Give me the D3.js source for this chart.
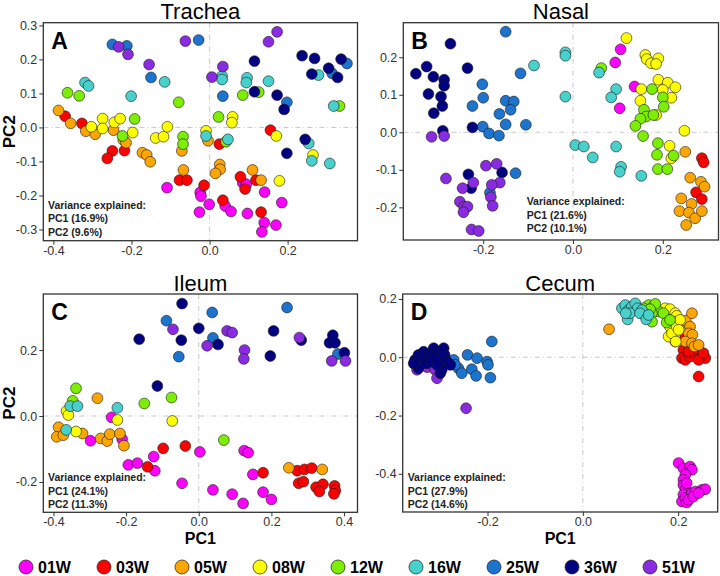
<!DOCTYPE html>
<html>
<head>
<meta charset="utf-8">
<script src="https://cdn.jsdelivr.net/npm/d3@7"></script>
<style>
  body { margin: 0; background: #fff; }
  svg { display: block; font-family: "Liberation Sans", Arial, sans-serif; }
</style>
</head>
<body>
<svg id="chart" width="720" height="576"></svg>
<script>
// sampling weeks and their colours
var weeks = ["01W", "03W", "05W", "08W", "12W", "16W", "25W", "36W", "51W"];
var weekColors = ["#FF00FF", "#FF0000", "#FFA500", "#FFFF00", "#7CEE00", "#48D1CC", "#1C74CE", "#000080", "#8A2BE2"];

// PCA scores: [week, PC1, PC2]
var trachea = [
  ["01W",-0.109,-0.177],["01W",-0.024,-0.191],["01W",-0.022,-0.202],["01W",-0.026,-0.249],["01W",-0.001,-0.226],
  ["01W",0.040,-0.231],["01W",0.055,-0.247],["01W",0.085,-0.163],["01W",0.094,-0.167],["01W",0.097,-0.253],
  ["01W",0.141,-0.190],["01W",0.185,-0.221],["01W",0.140,-0.280],["01W",0.134,-0.307],["01W",0.170,-0.287],
  ["03W",-0.370,0.033],["03W",-0.327,0.012],["03W",-0.249,-0.069],["03W",-0.262,-0.091],["03W",-0.218,-0.068],
  ["03W",-0.077,-0.155],["03W",-0.058,-0.155],["03W",-0.014,-0.170],["03W",0.025,-0.049],["03W",0.034,-0.214],
  ["03W",0.079,-0.145],["03W",0.091,-0.181],["03W",0.119,-0.155],["03W",0.132,-0.249],["03W",0.156,-0.008],
  ["05W",-0.387,0.050],["05W",-0.356,0.012],["05W",-0.317,-0.011],["05W",-0.293,-0.020],["05W",-0.246,-0.008],
  ["05W",-0.221,-0.037],["05W",-0.214,-0.045],["05W",-0.172,-0.074],["05W",-0.161,-0.081],["05W",-0.152,-0.101],
  ["05W",-0.071,-0.069],["05W",-0.067,-0.125],["05W",-0.004,-0.039],["05W",0.026,-0.109],["05W",0.027,-0.123],
  ["05W",0.015,-0.135],["05W",0.110,-0.125],["05W",0.132,-0.155],
  ["08W",-0.303,0.002],["08W",-0.274,0.026],["08W",-0.274,-0.003],["08W",-0.244,0.015],["08W",-0.229,0.026],
  ["08W",-0.197,-0.015],["08W",-0.138,-0.031],["08W",-0.118,-0.027],["08W",-0.108,0.002],["08W",-0.009,-0.010],
  ["08W",0.059,0.031],["08W",0.057,0.014],["08W",0.171,-0.025],["08W",0.265,-0.081],["08W",0.179,-0.157],
  ["12W",0.126,0.104],["12W",0.333,0.063],["12W",0.085,0.095],["12W",-0.364,0.102],["12W",-0.334,0.093],
  ["12W",-0.079,0.074],["12W",-0.192,0.025],["12W",-0.223,-0.025],["12W",-0.068,-0.027],["12W",-0.068,-0.049],
  ["12W",0.023,0.031],["12W",0.042,-0.042],
  ["16W",0.279,0.154],["16W",0.318,0.063],["16W",0.096,0.146],["16W",0.094,0.132],["16W",0.151,0.136],
  ["16W",0.032,0.151],["16W",0.032,0.141],["16W",-0.319,0.132],["16W",-0.310,0.122],["16W",-0.201,0.092],
  ["16W",-0.115,0.134],["16W",-0.009,-0.025],["16W",0.047,-0.035],["16W",0.254,-0.047],["16W",0.262,-0.098],
  ["16W",0.308,-0.106],
  ["25W",-0.249,0.244],["25W",-0.212,0.240],["25W",-0.150,0.147],["25W",-0.028,0.257],["25W",0.034,0.092],
  ["25W",0.198,0.074],["25W",0.352,0.188],["25W",0.314,0.159],
  ["36W",0.237,0.211],["36W",0.269,0.203],["36W",0.262,0.157],["36W",0.337,0.201],["36W",0.305,0.174],
  ["36W",0.328,0.147],["36W",0.115,0.195],["36W",0.115,0.105],["36W",0.173,0.095],["36W",0.191,0.053],
  ["36W",0.245,-0.035],["36W",0.198,-0.076],
  ["51W",-0.233,0.237],["51W",-0.209,0.215],["51W",-0.155,0.185],["51W",-0.062,0.254],["51W",0.006,0.148],
  ["51W",0.034,0.179],["51W",0.151,0.252],["51W",0.173,0.281]
];

var nasal = [
  ["01W",0.094,0.186],["01W",0.106,0.221],["01W",0.137,0.122],["01W",0.104,0.064],
  ["03W",0.287,-0.069],["03W",0.291,-0.080],["03W",0.274,-0.160],["03W",0.287,-0.178],
  ["05W",0.250,-0.052],["05W",0.261,-0.121],["05W",0.285,-0.132],["05W",0.293,-0.145],["05W",0.241,-0.176],
  ["05W",0.264,-0.191],["05W",0.237,-0.210],["05W",0.258,-0.214],["05W",0.272,-0.229],["05W",0.287,-0.210],
  ["05W",0.252,-0.247],
  ["08W",0.119,0.251],["08W",0.161,0.206],["08W",0.164,0.195],["08W",0.174,0.184],["08W",0.190,0.197],
  ["08W",0.185,0.182],["08W",0.152,0.115],["08W",0.190,0.140],["08W",0.211,0.132],["08W",0.228,0.120],
  ["08W",0.219,0.092],["08W",0.200,0.113],["08W",0.150,0.084],["08W",0.185,0.046],["08W",0.215,-0.036],
  ["08W",0.219,-0.069],["08W",0.248,0.004],
  ["12W",0.063,0.171],["12W",0.176,0.115],["12W",0.200,0.093],["12W",0.158,0.060],["12W",0.163,0.042],
  ["12W",0.179,0.046],["12W",0.202,0.068],["12W",0.150,0.036],["12W",0.139,0.017],["12W",0.156,-0.010],
  ["12W",0.189,-0.029],["12W",0.187,-0.060],["12W",0.224,-0.062],["12W",0.189,-0.098],["12W",0.210,-0.098],
  ["16W",-0.087,0.178],["16W",-0.017,0.213],["16W",-0.017,0.204],["16W",-0.017,0.095],["16W",0.005,-0.034],
  ["16W",0.024,-0.038],["16W",0.044,-0.067],["16W",0.058,0.159],["16W",0.096,0.115],["16W",0.085,0.093],
  ["16W",0.096,-0.038],["16W",0.107,-0.092],["16W",0.104,-0.105],["16W",0.152,-0.116],
  ["25W",-0.150,0.268],["25W",-0.117,0.157],["25W",-0.202,0.128],["25W",-0.200,0.092],["25W",-0.224,0.070],
  ["25W",-0.164,0.049],["25W",-0.150,0.084],["25W",-0.132,0.082],["25W",-0.139,0.060],["25W",-0.150,0.021],
  ["25W",-0.105,0.020],["25W",-0.201,0.015],["25W",-0.187,-0.003],["25W",-0.165,-0.009],["25W",-0.128,-0.109],
  ["25W",-0.185,-0.161],
  ["36W",-0.350,0.156],["36W",-0.326,0.175],["36W",-0.311,0.148],["36W",-0.287,0.140],["36W",-0.287,0.124],
  ["36W",-0.322,0.102],["36W",-0.294,0.095],["36W",-0.291,0.070],["36W",-0.310,0.051],["36W",-0.290,0.004],
  ["36W",-0.273,0.236],["36W",-0.235,0.171],["36W",-0.224,0.013],["36W",-0.233,-0.112],["36W",-0.227,-0.149],
  ["36W",-0.158,-0.107],
  ["51W",-0.315,-0.012],["51W",-0.287,-0.010],["51W",-0.283,-0.123],["51W",-0.222,-0.134],["51W",-0.194,-0.089],
  ["51W",-0.170,-0.084],["51W",-0.163,-0.134],["51W",-0.181,-0.140],["51W",-0.183,-0.173],["51W",-0.179,-0.196],
  ["51W",-0.246,-0.149],["51W",-0.252,-0.185],["51W",-0.243,-0.198],["51W",-0.235,-0.198],["51W",-0.244,-0.213],
  ["51W",-0.226,-0.259],["51W",-0.210,-0.263]
];

var ileum = [
  ["01W",-0.240,-0.004],["01W",-0.211,-0.070],["01W",-0.298,-0.075],["01W",-0.194,-0.148],["01W",-0.169,-0.143],
  ["01W",-0.124,-0.123],["01W",-0.121,-0.166],["01W",0.003,-0.109],["01W",0.125,-0.105],["01W",0.136,-0.111],
  ["01W",-0.046,-0.204],["01W",0.039,-0.224],["01W",0.092,-0.237],["01W",0.122,-0.265],["01W",0.149,-0.177],
  ["01W",0.177,-0.231],["01W",0.200,-0.253],
  ["03W",-0.098,-0.098],["03W",-0.037,-0.091],["03W",-0.141,-0.154],["03W",0.177,-0.172],["03W",0.271,-0.166],
  ["03W",0.291,-0.162],["03W",0.311,-0.158],["03W",0.275,-0.204],["03W",0.288,-0.199],["03W",0.323,-0.216],
  ["03W",0.342,-0.207],["03W",0.332,-0.229],["03W",0.374,-0.212],["03W",0.376,-0.226],["03W",0.372,-0.236],
  ["05W",-0.279,0.054],["05W",-0.386,-0.034],["05W",-0.391,-0.063],["05W",-0.373,-0.058],["05W",-0.320,-0.053],
  ["05W",-0.270,-0.068],["05W",-0.252,-0.076],["05W",-0.245,-0.055],["05W",-0.217,-0.053],["05W",-0.206,-0.090],
  ["05W",0.248,-0.157],["05W",0.340,-0.162],
  ["08W",-0.364,0.015],["08W",-0.359,0.003],["08W",-0.224,-0.012],["08W",-0.073,-0.015],["08W",-0.338,-0.047],
  ["12W",-0.338,0.084],["12W",-0.347,0.046],["12W",-0.150,0.038],["12W",-0.075,0.056],["12W",0.069,-0.073],
  ["16W",-0.354,0.030],["16W",-0.334,0.030],["16W",-0.224,0.025],["16W",-0.365,-0.042],
  ["25W",-0.089,0.289],["25W",0.037,0.314],["25W",0.039,0.237],["25W",-0.055,0.180],["25W",0.243,0.329],
  ["25W",0.383,0.188],
  ["36W",-0.046,0.341],["36W",-0.164,0.233],["36W",-0.048,0.230],["36W",0.000,0.266],["36W",0.053,0.217],
  ["36W",0.206,0.258],["36W",0.197,0.182],["36W",0.282,0.230],["36W",0.369,0.245],["36W",0.360,0.222],
  ["36W",0.375,0.222],["36W",0.401,0.192],["36W",-0.114,0.091],
  ["51W",-0.071,0.263],["51W",0.023,0.213],["51W",0.078,0.258],["51W",0.092,0.253],["51W",0.126,0.200],
  ["51W",0.124,0.173],["51W",0.277,0.238],["51W",0.366,0.167],["51W",0.404,0.167]
];

var cecum = [
  ["01W",0.201,-0.363],["01W",0.211,-0.381],["01W",0.225,-0.375],["01W",0.229,-0.386],["01W",0.215,-0.403],
  ["01W",0.211,-0.421],["01W",0.211,-0.438],["01W",0.215,-0.455],["01W",0.211,-0.472],["01W",0.208,-0.495],
  ["01W",0.215,-0.483],["01W",0.218,-0.498],["01W",0.229,-0.466],["01W",0.236,-0.461],["01W",0.250,-0.455],
  ["01W",0.257,-0.453],["01W",0.222,-0.489],["01W",0.232,-0.478],["01W",0.243,-0.466],["01W",0.218,-0.432],
  ["03W",0.215,0.071],["03W",0.218,0.037],["03W",0.211,0.025],["03W",0.208,-0.003],["03W",0.215,-0.009],
  ["03W",0.225,0.002],["03W",0.236,0.008],["03W",0.246,0.019],["03W",0.250,0.002],["03W",0.257,-0.003],
  ["03W",0.232,0.025],["03W",0.222,0.019],["03W",0.243,-0.009],["03W",0.243,-0.066],["03W",0.253,0.014],
  ["05W",0.055,0.096],["05W",0.208,0.117],["05W",0.216,0.126],["05W",0.225,0.105],["05W",0.222,0.082],
  ["05W",0.230,0.077],["05W",0.215,0.054],["05W",0.229,0.048],["05W",0.234,0.037],["05W",0.243,0.042],
  ["05W",0.194,0.054],["05W",0.229,0.151],
  ["08W",0.173,0.168],["08W",0.183,0.165],["08W",0.194,0.151],["08W",0.197,0.142],["08W",0.190,0.122],
  ["08W",0.183,0.105],["08W",0.180,0.071],["08W",0.187,0.082],["08W",0.195,0.054],["08W",0.197,0.105],
  ["08W",0.204,0.128],["08W",0.201,0.094],
  ["12W",0.138,0.179],["12W",0.148,0.174],["12W",0.159,0.157],["12W",0.145,0.151],["12W",0.127,0.168],
  ["12W",0.152,0.183],["12W",0.169,0.151],["12W",0.176,0.119],["12W",0.183,0.128],["12W",0.141,0.165],
  ["12W",0.145,0.122],
  ["16W",0.082,0.168],["16W",0.089,0.179],["16W",0.096,0.162],["16W",0.103,0.174],["16W",0.110,0.185],
  ["16W",0.115,0.168],["16W",0.094,0.130],["16W",0.124,0.162],["16W",0.099,0.151],["16W",0.120,0.151],
  ["16W",0.133,0.130],["16W",0.138,0.145],["16W",0.090,0.151],
  ["25W",-0.191,0.054],["25W",-0.242,0.008],["25W",-0.222,-0.003],["25W",-0.201,-0.015],["25W",-0.199,-0.026],
  ["25W",-0.261,-0.038],["25W",-0.254,-0.055],["25W",-0.233,-0.041],["25W",-0.224,-0.064],["25W",-0.194,-0.070],
  ["25W",-0.271,-0.009],["25W",-0.268,-0.026],
  ["51W",-0.348,-0.043],["51W",-0.341,-0.009],["51W",-0.327,-0.034],["51W",-0.310,-0.043],["51W",-0.306,-0.072],
  ["51W",-0.292,0.008],["51W",-0.289,-0.021],["51W",-0.352,-0.015],["51W",-0.315,-0.009],["51W",-0.245,-0.175],
  ["36W",-0.352,-0.009],["36W",-0.345,0.008],["36W",-0.341,-0.026],["36W",-0.334,0.019],["36W",-0.331,-0.003],
  ["36W",-0.327,-0.021],["36W",-0.320,0.014],["36W",-0.317,-0.015],["36W",-0.313,0.031],["36W",-0.310,0.008],
  ["36W",-0.303,0.019],["36W",-0.299,-0.003],["36W",-0.292,0.031],["36W",-0.290,0.008],["36W",-0.285,-0.015],
  ["36W",-0.278,-0.026],["36W",-0.299,-0.055],["36W",-0.345,-0.038],["36W",-0.355,-0.021],["36W",-0.296,-0.043],
  ["36W",-0.306,-0.026]
];

// axis ticks per panel
var traXTicks = [-0.4, -0.2, 0, 0.2], traYTicks = [-0.3, -0.2, -0.1, 0, 0.1, 0.2, 0.3];
var nasXTicks = [-0.2, 0, 0.2],       nasYTicks = [-0.2, -0.1, 0, 0.1, 0.2];
var ileXTicks = [-0.4, -0.2, 0, 0.2, 0.4], ileYTicks = [-0.2, 0, 0.2];
var cecXTicks = [-0.2, 0, 0.2],       cecYTicks = [-0.4, -0.2, 0, 0.2];

var panels = [
  { title: "Trachea", letter: "A", pts: trachea, xt: traXTicks, yt: traYTicks,
    xd: [-0.426, 0.379], yd: [-0.333, 0.308], pc: ["16.9%", "9.6%"],
    box: [43.3, 22.7, 357.5, 240.7], note: [48, 208.5], ylab: true, xlab: false },
  { title: "Nasal", letter: "B", pts: nasal, xt: nasXTicks, yt: nasYTicks,
    xd: [-0.378, 0.324], yd: [-0.287, 0.292], pc: ["21.6%", "10.1%"],
    box: [403.3, 22.7, 718.5, 240], note: [526.7, 205], ylab: false, xlab: false },
  { title: "Ileum", letter: "C", pts: ileum, xt: ileXTicks, yt: ileYTicks,
    xd: [-0.428, 0.437], yd: [-0.292, 0.370], pc: ["24.1%", "11.3%"],
    box: [43.3, 294, 357.5, 512.3], note: [48, 481], ylab: true, xlab: true },
  { title: "Cecum", letter: "D", pts: cecum, xt: cecXTicks, yt: cecYTicks,
    xd: [-0.378, 0.283], yd: [-0.531, 0.217], pc: ["27.9%", "14.6%"],
    box: [402.7, 294, 717.7, 512], note: [407.7, 481], ylab: false, xlab: true }
];

var svg = d3.select("#chart");
var color = d3.scaleOrdinal().domain(weeks).range(weekColors);
var fmt = function(d) { return d.toFixed(1); };

panels.forEach(drawPanel);

function drawPanel(p) {
  var b = p.box;
  var x = d3.scaleLinear().domain(p.xd).range([b[0], b[2]]);
  var y = d3.scaleLinear().domain(p.yd).range([b[3], b[1]]);
  var g = svg.append("g");

  g.append("rect").attr("x", b[0]).attr("y", b[1])
    .attr("width", b[2] - b[0]).attr("height", b[3] - b[1]).attr("fill", "#fff");

  // zero reference lines
  g.append("line").attr("x1", x(0)).attr("x2", x(0)).attr("y1", b[1]).attr("y2", b[3])
    .attr("stroke", "#c8c8c8").attr("stroke-width", 1).attr("stroke-dasharray", "5,3,1,3");
  g.append("line").attr("x1", b[0]).attr("x2", b[2]).attr("y1", y(0)).attr("y2", y(0))
    .attr("stroke", "#c8c8c8").attr("stroke-width", 1).attr("stroke-dasharray", "5,3,1,3");

  g.append("g").selectAll("circle").data(p.pts).join("circle")
    .attr("cx", function(d) { return x(d[1]); })
    .attr("cy", function(d) { return y(d[2]); })
    .attr("r", 5.4)
    .attr("fill", function(d) { return color(d[0]); })
    .attr("stroke", "#1a1a1a").attr("stroke-width", 0.6);

  g.append("rect").attr("x", b[0]).attr("y", b[1])
    .attr("width", b[2] - b[0]).attr("height", b[3] - b[1])
    .attr("fill", "none").attr("stroke", "#333").attr("stroke-width", 1.3);

  var ax = g.append("g").attr("transform", "translate(0," + b[3] + ")")
    .call(d3.axisBottom(x).tickValues(p.xt).tickFormat(fmt).tickSize(4).tickPadding(1));
  var ay = g.append("g").attr("transform", "translate(" + b[0] + ",0)")
    .call(d3.axisLeft(y).tickValues(p.yt).tickFormat(fmt).tickSize(4).tickPadding(2));
  [ax, ay].forEach(function(a) {
    a.select(".domain").remove();
    a.selectAll("line").attr("stroke", "#333");
    a.selectAll("text").attr("fill", "#333").style("font-size", "12.5px")
      .style("font-family", '"Liberation Sans", Arial, sans-serif');
  });

  g.append("text").attr("x", (b[0] + b[2]) / 2).attr("y", b[1] - 3.5)
    .attr("text-anchor", "middle").style("font-size", "22px").text(p.title);

  g.append("text").attr("x", b[0] + 8).attr("y", b[1] + 26)
    .style("font-size", "23px").style("font-weight", "bold").text(p.letter);

  var note = g.append("text").attr("x", p.note[0]).attr("y", p.note[1])
    .attr("fill", "#222").style("font-size", "10.5px").style("font-weight", "bold");
  ["Variance explained:", "PC1 (" + p.pc[0] + ")", "PC2 (" + p.pc[1] + ")"].forEach(function(t, i) {
    note.append("tspan").attr("x", p.note[0]).attr("dy", i ? 13.5 : 0).text(t);
  });

  if (p.ylab) {
    g.append("text")
      .attr("transform", "translate(15," + (b[1] + b[3]) / 2 + ") rotate(-90)")
      .attr("text-anchor", "middle").style("font-size", "17px").style("font-weight", "bold")
      .text("PC2");
  }
  if (p.xlab) {
    g.append("text").attr("x", (b[0] + b[2]) / 2).attr("y", b[3] + 31.5)
      .attr("text-anchor", "middle").style("font-size", "16px").style("font-weight", "bold")
      .text("PC1");
  }
}

// legend along the bottom
var leg = svg.append("g").selectAll("g").data(weeks).join("g")
  .attr("transform", function(d, i) { return "translate(" + (26 + i * 78) + ",567)"; });
leg.append("circle").attr("r", 7).attr("fill", function(d) { return color(d); })
  .attr("stroke", "#1a1a1a").attr("stroke-width", 0.7);
leg.append("text").attr("x", 12).attr("y", 6).style("font-size", "16px").style("font-weight", "bold")
  .text(function(d) { return d; });
</script>
</body>
</html>
